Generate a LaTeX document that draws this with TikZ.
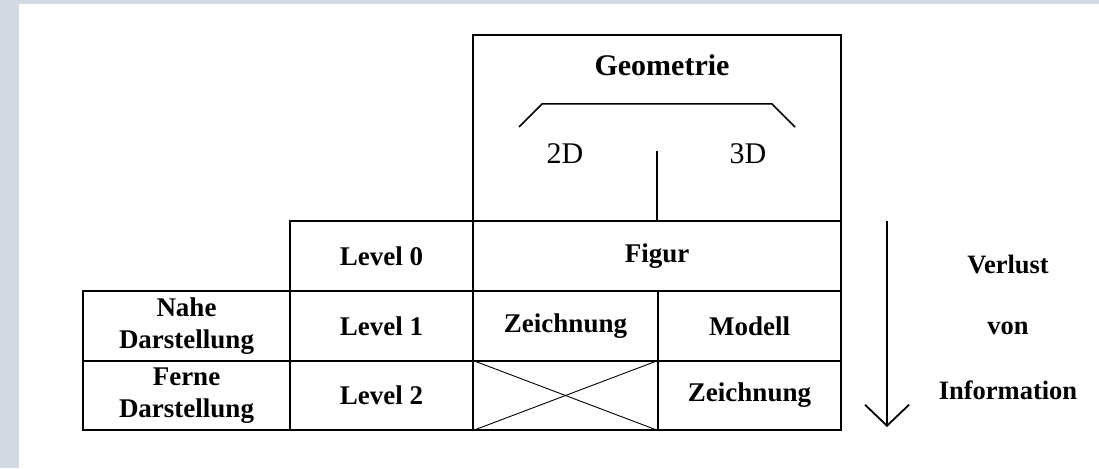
\documentclass[tikz,border=0pt]{standalone}
\usepackage{fontspec}
\setmainfont{Liberation Serif}
\usepackage{tikz}
\usetikzlibrary{positioning, arrows.meta}

\definecolor{bgblau}{RGB}{211,218,228}

\begin{document}
\begin{tikzpicture}[x=1pt, y=-1pt,
    zelle/.style={draw, line width=1.6pt, inner sep=0pt, align=center,
      font=\fontsize{27}{32}\selectfont\bfseries},
    seite/.style={font=\fontsize{26.5}{30}\selectfont\bfseries}]

    % --- Hintergrund und Rahmen ---
    \useasboundingbox (0,0) rectangle (1099,468);
    \fill[bgblau] (0,0) rectangle (1099,468);
    \fill[white] (19,4) rectangle (1099,468);

    % --- Geometrie-Kasten ---
    \node[zelle, minimum width=368pt, minimum height=186pt] (geo) at (657,128) {};
    \node[font=\fontsize{30}{34}\selectfont\bfseries] (geotext) at (662,65) {Geometrie};
    \node[font=\fontsize{30}{34}\selectfont] (zweiD) at (565,154) {2D};
    \node[font=\fontsize{30}{34}\selectfont] (dreiD) at (748,154) {3D};

    % Klammer ueber 2D und 3D
    \coordinate (K1) at (519,127);
    \coordinate (K2) at (542,104);
    \coordinate (K3) at (772,104);
    \coordinate (K4) at (795,127);
    \draw[line width=1.5pt] (K1) -- (K2) -- (K3) -- (K4);

    % --- Tabelle ---
    % Level 0
    \node[zelle, minimum width=183pt, minimum height=70pt] (lvlnull) at (381.5,256) {Level 0};
    \node[zelle, minimum width=368pt, minimum height=70pt] (figur) at (657,256) {\raisebox{6pt}{Figur}};
    % Level 1
    \node[zelle, minimum width=207pt, minimum height=70pt] (nahe) at (186.5,326) {Nahe\\Darstellung};
    \node[zelle, minimum width=183pt, minimum height=70pt] (lvleins) at (381.5,326) {Level 1};
    \node[zelle, minimum width=185pt, minimum height=70pt] (zeichA) at (565.5,326) {Zeichnung};
    \node[zelle, minimum width=183pt, minimum height=70pt] (modell) at (749.5,326) {Modell};
    % Level 2
    \node[zelle, minimum width=207pt, minimum height=69pt] (ferne) at (186.5,395.5) {Ferne\\Darstellung};
    \node[zelle, minimum width=183pt, minimum height=69pt] (lvlzwei) at (381.5,395.5) {Level 2};
    \node[zelle, minimum width=185pt, minimum height=69pt] (kreuz) at (565.5,395.5) {};
    \node[zelle, minimum width=183pt, minimum height=69pt] (zeichB) at (749.5,395.5) {Zeichnung};

    % Kreuz im leeren Feld
    \draw[line width=0.9pt] (kreuz.north west) -- (kreuz.south east);
    \draw[line width=0.9pt] (kreuz.north east) -- (kreuz.south west);

    % Verbindung Geometrie -> Figur
    \coordinate (stiel) at (657,151);
    \draw[line width=1.6pt] (stiel) -- (stiel |- figur.north);

    % --- Pfeil: Verlust von Information ---
    \coordinate (pfeilA) at (887,221);
    \coordinate (pfeilB) at (887,427);
    \draw[line width=1.8pt, -{Straight Barb[length=21pt, width=44pt]}] (pfeilA) -- (pfeilB);

    \node[seite] (verlust) at (1008,265) {Verlust};
    \node[seite] (von) at (1008,328) {von};
    \node[seite] (info) at (1008,390) {Information};

\end{tikzpicture}
\end{document}
